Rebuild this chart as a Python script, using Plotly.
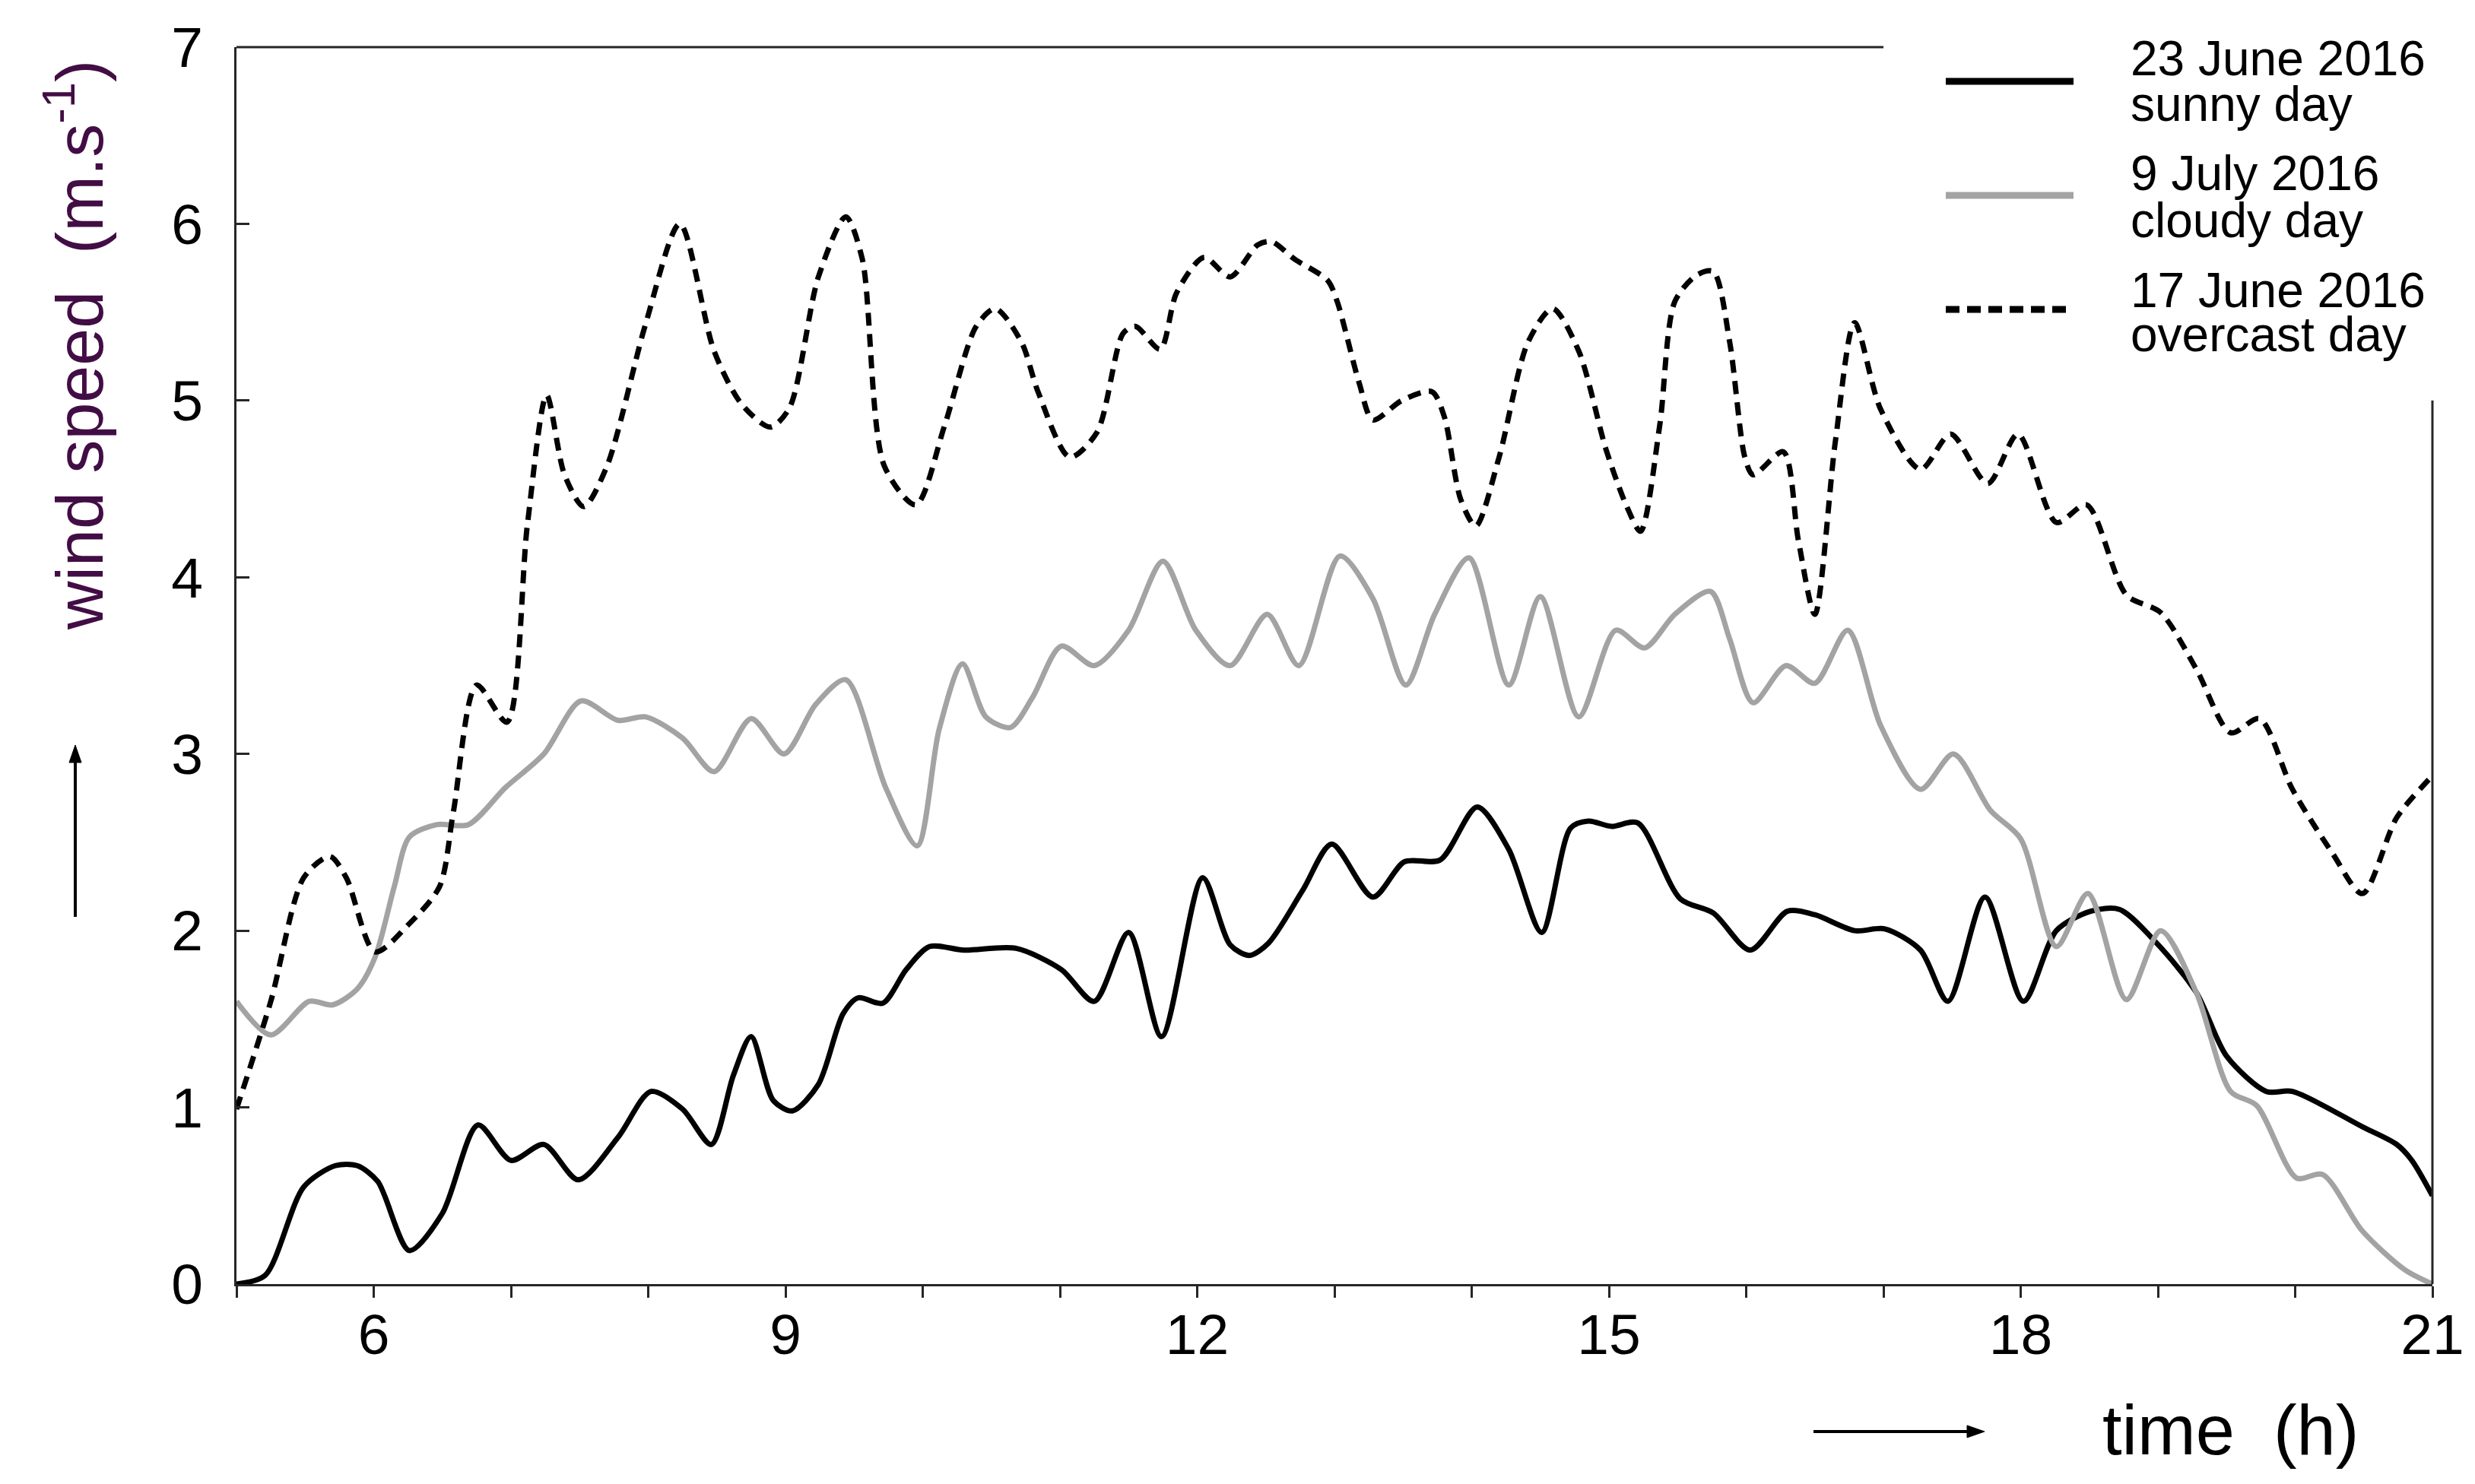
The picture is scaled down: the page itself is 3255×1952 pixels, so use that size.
import plotly.graph_objects as go

# ---------------- data ----------------
sunny_h = [5.0, 5.21, 5.49, 5.72, 5.88, 6.03, 6.26, 6.5, 6.76, 7.0, 7.24, 7.49, 7.78, 8.02, 8.25, 8.46,
           8.62, 8.75, 8.91, 9.05, 9.24, 9.42, 9.53, 9.71, 9.88, 10.05, 10.3, 10.68, 11.01, 11.25, 11.5,
           11.74, 12.04, 12.24, 12.38, 12.52, 12.77, 12.98, 13.28, 13.51, 13.77, 14.04, 14.27, 14.51,
           14.72, 14.85, 15.02, 15.21, 15.52, 15.76, 16.03, 16.3, 16.5, 16.79, 17.01, 17.27, 17.47,
           17.74, 18.02, 18.26, 18.51, 18.72, 18.99, 19.28, 19.5, 19.79, 19.98, 20.49, 20.74, 20.85, 21.0]
sunny_v = [0.0, 0.05, 0.55, 0.67, 0.67, 0.58, 0.19, 0.4, 0.9, 0.7, 0.79, 0.59, 0.83, 1.09, 0.99, 0.79,
           1.18, 1.40, 1.04, 0.98, 1.13, 1.53, 1.62, 1.59, 1.78, 1.91, 1.89, 1.9, 1.78, 1.60, 1.99,
           1.40, 2.30, 1.92, 1.86, 1.93, 2.23, 2.49, 2.19, 2.39, 2.40, 2.70, 2.46, 1.99,
           2.58, 2.62, 2.59, 2.61, 2.18, 2.10, 1.89, 2.11, 2.09, 2.0, 2.01, 1.89, 1.60,
           2.19, 1.60, 2.0, 2.11, 2.12, 1.93, 1.65, 1.29, 1.09, 1.09, 0.89, 0.79, 0.70, 0.5]

cloudy_h = [5.0, 5.25, 5.53, 5.7, 5.88, 6.01, 6.15, 6.26, 6.46, 6.69, 6.96, 7.24, 7.51, 7.78, 7.98, 8.25,
            8.48, 8.75, 8.99, 9.22, 9.44, 9.73, 9.96, 10.12, 10.29, 10.46, 10.64, 10.8, 11.01, 11.25,
            11.5, 11.75, 11.99, 12.24, 12.51, 12.74, 13.04, 13.28, 13.52, 13.73, 13.98, 14.27, 14.5,
            14.78, 15.05, 15.26, 15.48, 15.74, 15.88, 16.05, 16.29, 16.5, 16.74, 16.98, 17.27, 17.51,
            17.78, 18.0, 18.26, 18.49, 18.77, 19.02, 19.28, 19.53, 19.72, 20.01, 20.2, 20.49, 20.8, 21.0]
cloudy_v = [1.6, 1.41, 1.6, 1.58, 1.67, 1.85, 2.25, 2.53, 2.6, 2.6, 2.81, 3.0, 3.30, 3.19, 3.21, 3.09,
            2.90, 3.2, 3.0, 3.28, 3.42, 2.81, 2.48, 3.14, 3.51, 3.21, 3.15, 3.32, 3.61, 3.50,
            3.70, 4.09, 3.70, 3.50, 3.79, 3.50, 4.12, 3.88, 3.39, 3.79, 4.11, 3.39, 3.89,
            3.21, 3.70, 3.60, 3.79, 3.92, 3.65, 3.29, 3.50, 3.40, 3.70, 3.16, 2.80, 3.00,
            2.68, 2.52, 1.91, 2.21, 1.61, 2.0, 1.65, 1.09, 1.01, 0.60, 0.62, 0.30, 0.08, 0.0]

overcast_h = [5.0, 5.25, 5.49, 5.68, 5.8, 6.01, 6.26, 6.48, 6.58, 6.75, 6.97, 7.12, 7.26, 7.39, 7.53, 7.7,
              7.98, 8.23, 8.48, 8.68, 8.89, 9.03, 9.24, 9.44, 9.56, 9.72, 9.95, 10.16, 10.39, 10.53,
              10.72, 10.84, 11.07, 11.27, 11.46, 11.55, 11.73, 11.85, 12.05, 12.24, 12.44, 12.54, 12.71,
              12.95, 13.02, 13.18, 13.28, 13.49, 13.71, 13.8, 13.92, 14.03, 14.2, 14.41, 14.59, 14.78,
              14.98, 15.13, 15.23, 15.37, 15.48, 15.64, 15.76, 15.88, 15.99, 16.05, 16.27, 16.38, 16.5,
              16.65, 16.79, 16.98, 17.27, 17.49, 17.76, 17.98, 18.26, 18.48, 18.77, 19.02, 19.28, 19.53,
              19.74, 19.98, 20.27, 20.49, 20.74, 20.98]
overcast_v = [0.99, 1.6, 2.3, 2.42, 2.3, 1.88, 2.04, 2.25, 2.67, 3.39, 3.18, 4.30, 5.03, 4.58, 4.40, 4.63,
              5.43, 6.0, 5.28, 4.98, 4.85, 4.96, 5.70, 6.04, 5.8, 4.63, 4.41, 4.86, 5.42, 5.52,
              5.33, 5.05, 4.68, 4.82, 5.38, 5.42, 5.29, 5.61, 5.81, 5.70, 5.88, 5.9, 5.80,
              5.68, 5.56, 5.10, 4.89, 5.0, 5.05, 4.91, 4.44, 4.29, 4.68, 5.33, 5.52, 5.28,
              4.72, 4.40, 4.26, 4.86, 5.56, 5.71, 5.73, 5.33, 4.68, 4.58, 4.71, 4.21, 3.79,
              4.77, 5.44, 4.95, 4.61, 4.81, 4.53, 4.81, 4.31, 4.41, 3.90, 3.80, 3.48, 3.12,
              3.20, 2.80, 2.44, 2.21, 2.64, 2.86]

legend_labels = [["23 June 2016", "sunny day"],
                 ["9 July 2016", "cloudy day"],
                 ["17 June 2016", "overcast day"]]

x_range = [5, 21]
y_range = [0, 7]
x_tick_vals = list(range(5, 22))
x_label_vals = [6, 9, 12, 15, 18, 21]
y_tick_vals = [0, 1, 2, 3, 4, 5, 6, 7]
top_frame_end = 17      # top frame line stops here (legend area)
right_frame_top = 5     # right frame line stops here (legend area)
y_title = "wind speed  (m.s<sup>-1</sup>)"
x_title = "time  (h)"

# ---------------- layout geometry ----------------
W, H = 3255, 1952
L, R, T, B = 303, 64, 54, 271
PW, PH = W - L - R, H - T - B
FONT = "Liberation Sans, Arial, sans-serif"
GRAY = "#a3a3a3"
AX = "#262626"


def px(xp):
    return (xp - L) / PW


def py(yp):
    return (H - B - yp) / PH


styles = [dict(color="black", width=7, dash="solid"),
          dict(color=GRAY, width=7, dash="solid"),
          dict(color="black", width=7, dash="17px,11px")]

fig = go.Figure()
for hx, vy, st in [(sunny_h, sunny_v, styles[0]), (cloudy_h, cloudy_v, styles[1]),
                   (overcast_h, overcast_v, styles[2])]:
    fig.add_trace(go.Scatter(x=hx, y=vy, mode="lines", line=dict(shape="spline", smoothing=0.8, **st),
                             showlegend=False, hoverinfo="skip", cliponaxis=False))

fig.update_layout(
    width=W, height=H, margin=dict(l=L, r=R, t=T, b=B),
    paper_bgcolor="white", plot_bgcolor="white", showlegend=False,
    xaxis=dict(range=x_range, tickvals=x_tick_vals,
               ticktext=[str(v) if v in x_label_vals else "" for v in x_tick_vals],
               ticks="outside", ticklen=15, tickwidth=3, tickcolor=AX,
               showline=True, linewidth=3, linecolor=AX, showgrid=False, zeroline=False,
               tickfont=dict(family=FONT, size=75, color="black"), ticklabelstandoff=-16),
    yaxis=dict(range=y_range, tickvals=y_tick_vals, ticks="inside", ticklen=17, tickwidth=3, tickcolor=AX,
               showline=True, linewidth=3, linecolor=AX, showgrid=False, zeroline=False,
               tickfont=dict(family=FONT, size=75, color="black"), ticklabelstandoff=26),
    xaxis2=dict(range=x_range, overlaying="x", side="top", anchor="y",
                tickvals=list(range(6, top_frame_end + 1)),
                ticks="inside", ticklen=17, tickwidth=3, tickcolor=AX, showticklabels=False,
                showline=False, showgrid=False, zeroline=False),
    yaxis2=dict(range=y_range, overlaying="y", side="right", anchor="x",
                tickvals=list(range(1, right_frame_top + 1)),
                ticks="inside", ticklen=17, tickwidth=3, tickcolor=AX, showticklabels=False,
                showline=False, showgrid=False, zeroline=False),
)

# partial frame (paper refs so the lines are not clipped at the plot edge)
top_end_p = (top_frame_end - x_range[0]) / (x_range[1] - x_range[0])
right_top_p = (right_frame_top - y_range[0]) / (y_range[1] - y_range[0])
fig.add_shape(type="line", xref="paper", yref="paper", x0=0, x1=top_end_p, y0=1, y1=1,
              line=dict(color=AX, width=3))
fig.add_shape(type="line", xref="paper", yref="paper", x0=1, x1=1, y0=0, y1=right_top_p,
              line=dict(color=AX, width=3))

# manual legend (long line samples as in the reference)
leg_line_y = [99, 249, 399]
leg_text_y = [(69, 129), (220, 282), (374, 432)]
for i, st in enumerate(styles):
    fig.add_shape(type="line", xref="paper", yref="paper", x0=px(2551), x1=px(2719),
                  y0=py(leg_line_y[i]), y1=py(leg_line_y[i]),
                  line=dict(color=st["color"], width=9,
                            dash=st["dash"] if st["dash"] == "solid" else "18px,10px"))
    for j, txt in enumerate(legend_labels[i]):
        fig.add_annotation(text=txt, xref="paper", yref="paper", x=px(2792), y=py(leg_text_y[i][j]),
                           xanchor="left", yanchor="middle", showarrow=False,
                           font=dict(family=FONT, size=64, color="black"))

# axis titles
fig.add_annotation(text=y_title, xref="paper", yref="paper", x=px(90), y=py(446), textangle=-90,
                   xanchor="center", yanchor="middle", showarrow=False,
                   font=dict(family=FONT, size=88, color="#420d44"))
fig.add_annotation(text=x_title, xref="paper", yref="paper", x=px(2925), y=py(1873),
                   xanchor="center", yanchor="middle", showarrow=False,
                   font=dict(family=FONT, size=92, color="black"))

# direction arrows (shapes)
ARW = dict(color="black", width=4)
fig.add_shape(type="line", xref="paper", yref="paper", x0=px(91), x1=px(91), y0=py(1198), y1=py(990),
              line=ARW)
fig.add_shape(type="path", xref="paper", yref="paper",
              path=f"M {px(83)} {py(995)} L {px(91)} {py(972)} L {px(99)} {py(995)} Z",
              fillcolor="black", line=dict(color="black", width=1))
fig.add_shape(type="line", xref="paper", yref="paper", x0=px(2377), x1=px(2585), y0=py(1875), y1=py(1875),
              line=ARW)
fig.add_shape(type="path", xref="paper", yref="paper",
              path=f"M {px(2579)} {py(1867)} L {px(2602)} {py(1875)} L {px(2579)} {py(1883)} Z",
              fillcolor="black", line=dict(color="black", width=1))

fig.write_html("out.html")
